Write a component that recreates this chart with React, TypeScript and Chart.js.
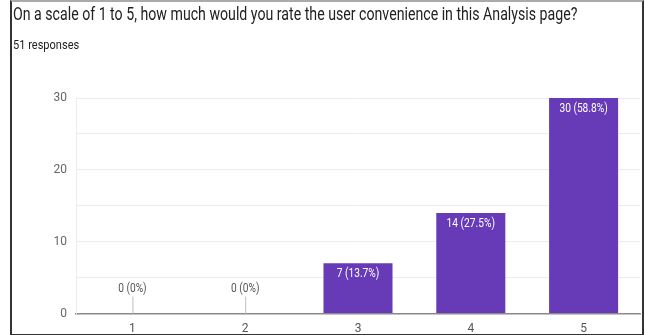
import React, { useEffect, useRef } from "react";
import { Chart, registerables } from "chart.js";

Chart.register(...registerables);

const titleText = "On a scale of 1 to 5, how much would you rate the user convenience in this Analysis page?";
const subtitleText = "51 responses";
const categories = ["1", "2", "3", "4", "5"];
const counts = [0, 0, 7, 14, 30];
const percents = ["0%", "0%", "13.7%", "27.5%", "58.8%"];
const barColor = "#673ab7";

const FONT = "Roboto, 'Liberation Sans', Arial, sans-serif";

const labelPlugin = {
  id: "barLabels",
  afterDatasetsDraw(chart: any) {
    const ctx = chart.ctx;
    const meta = chart.getDatasetMeta(0);
    const yScale = chart.scales.y;
    ctx.save();
    ctx.font = `12px ${FONT}`;
    ctx.textAlign = "center";
    ctx.textBaseline = "middle";
    meta.data.forEach((bar: any, i: number) => {
      const text = `${counts[i]} (${percents[i]})`;
      const x = bar.x;
      if (counts[i] === 0) {
        const y0 = yScale.getPixelForValue(0);
        ctx.strokeStyle = "#bdbdbd";
        ctx.lineWidth = 1;
        ctx.beginPath();
        ctx.moveTo(x + 0.5, y0 - 17);
        ctx.lineTo(x + 0.5, y0);
        ctx.stroke();
        ctx.fillStyle = "#555";
        ctx.save();
        ctx.translate(x, y0 - 25);
        ctx.scale(0.85, 1);
        ctx.fillText(text, 0, 0);
        ctx.restore();
      } else {
        ctx.fillStyle = "#ffffff";
        ctx.save();
        ctx.translate(x, bar.y + 11);
        ctx.scale(0.85, 1);
        ctx.fillText(text, 0, 0);
        ctx.restore();
      }
    });
    ctx.restore();
  },
};

export default function App() {
  const ref = useRef<HTMLCanvasElement | null>(null);

  useEffect(() => {
    document.body.style.margin = "0";
    const canvas = ref.current!;
    const chart = new Chart(canvas, {
      type: "bar",
      data: {
        labels: categories,
        datasets: [
          {
            data: counts,
            backgroundColor: barColor,
            borderWidth: 0,
            categoryPercentage: 1,
            barPercentage: 0.612,
          },
        ],
      },
      options: {
        animation: false,
        responsive: false,
        layout: { padding: { top: 98, right: 5, bottom: 6, left: 0 } },
        plugins: {
          legend: { display: false },
          tooltip: { enabled: false },
        },
        scales: {
          x: {
            grid: { display: false, drawTicks: false },
            border: { display: true, color: "#8a8a8a", width: 1.5 },
            ticks: { color: "#555", font: { size: 12, family: FONT }, padding: 8 },
          },
          y: {
            min: 0,
            max: 30,
            afterFit(scale: any) {
              scale.width = 76;
            },
            grid: { color: "#ececec", drawTicks: false },
            border: { display: true, color: "#ececec" },
            ticks: {
              stepSize: 5,
              color: "#666",
              padding: 9,
              font: { size: 12, family: FONT },
              callback: (v: any) => (Number(v) % 10 === 0 ? String(v) : ""),
            },
          },
        },
      },
      plugins: [labelPlugin],
    });
    return () => chart.destroy();
  }, []);

  return (
    <div style={{ position: "relative", width: 645, height: 335, overflow: "hidden", background: "#fff" }}>
      <canvas ref={ref} width={645} height={350} style={{ position: "absolute", left: 0, top: 0 }} />
      <div
        style={{
          position: "absolute",
          left: 13,
          top: 2,
          whiteSpace: "nowrap",
          fontFamily: FONT,
          fontSize: 19,
          color: "#202124",
          transform: "scaleX(0.745)",
          transformOrigin: "left top",
        }}
      >
        {titleText}
      </div>
      <div
        style={{
          position: "absolute",
          left: 13,
          top: 38,
          whiteSpace: "nowrap",
          fontFamily: FONT,
          fontSize: 12,
          color: "#202124",
          transform: "scaleX(0.92)",
          transformOrigin: "left top",
        }}
      >
        {subtitleText}
      </div>
      <div
        style={{
          position: "absolute",
          left: 10,
          top: 0,
          width: 630,
          height: 332,
          border: "2px solid #333",
          borderTopColor: "#aaa",
          pointerEvents: "none",
        }}
      />
    </div>
  );
}
